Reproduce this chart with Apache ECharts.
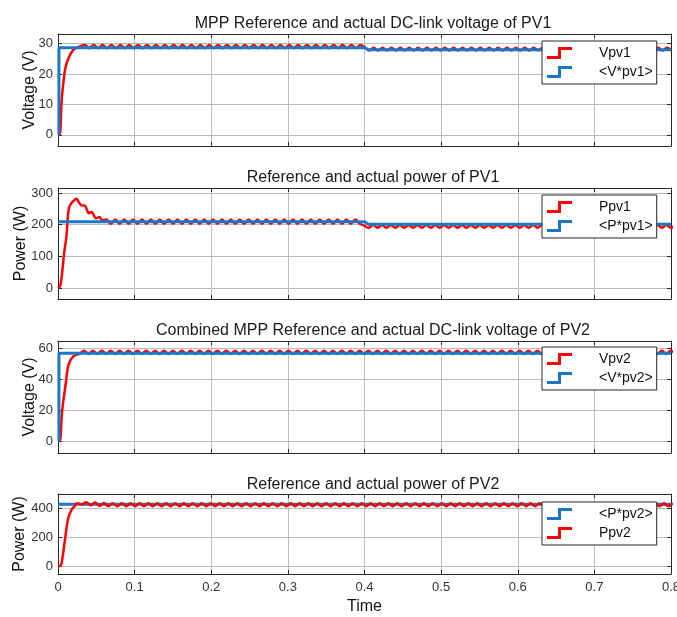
<!DOCTYPE html>
<html>
<head>
<meta charset="utf-8">
<script src="https://cdn.jsdelivr.net/npm/echarts@6/dist/echarts.min.js"></script>
<style>
  html, body { margin: 0; padding: 0; background: #fff; }
  #chart { width: 677px; height: 617px; }
</style>
</head>
<body>
<div id="chart"></div>
<script>
// ---- data ----
const STEP = 0.0058; // spacing of ripple samples (s)

const titles = [
  'MPP Reference and actual DC-link voltage of PV1',
  'Reference and actual power of PV1',
  'Combined MPP Reference and actual DC-link voltage of PV2',
  'Reference and actual power of PV2'
];
const yNames = ['Voltage (V)', 'Power (W)', 'Voltage (V)', 'Power (W)'];
const yMin = [-3.7, -35, -7.8, -52];
const yMax = [33.2, 316, 65, 496];
const yStep = [10, 100, 20, 200];

// reference (blue) traces
const vRef1T = [0.0012, 0.0012, 0.4, 0.405, 0.8];
const vRef1 = [0, 28.7, 28.7, 28.0, 28.0];
const pRef1T = [0, 0.4, 0.405, 0.8];
const pRef1 = [209, 209, 201, 201];
const vRef2T = [0.0012, 0.0012, 0.8];
const vRef2 = [0, 57, 57];
const pRef2T = [0, 0.8];
const pRef2 = [425, 425];

// actual (red) traces: start-up part
const vpv1StartT = [0, 0.002, 0.0048, 0.0069, 0.010, 0.0144, 0.020, 0.0265, 0.030];
const vpv1Start = [0, 0, 11.4, 17, 22.4, 25.7, 28, 28.9, 29.3];
const ppv1StartT = [0, 0.003, 0.0055, 0.008, 0.011, 0.014, 0.0175, 0.021, 0.024, 0.027,
  0.031, 0.035, 0.038, 0.040, 0.044, 0.047, 0.050, 0.054, 0.058, 0.063];
const ppv1Start = [0, 8, 51, 110, 163, 250, 268, 277, 282, 272,
  261, 260, 245, 237, 240, 228, 220, 224, 214, 216];
const vpv2StartT = [0, 0.002, 0.0055, 0.010, 0.014, 0.020, 0.0285];
const vpv2Start = [0, 0, 20, 37, 50, 55, 56.8];
const ppv2StartT = [0, 0.003, 0.0048, 0.0091, 0.0134, 0.0178, 0.022, 0.025];
const ppv2Start = [0, 5, 23, 183, 332, 389, 415, 432];

// actual (red) traces: ripple part, one value every STEP from t0
const vpv1T0 = 0.035;
const vpv1Ripple = [
  29.6, 28.5, 29.6, 28.5, 29.6, 28.5, 29.6, 28.5, 29.6, 28.5,
  29.6, 28.5, 29.6, 28.5, 29.6, 28.5, 29.6, 28.5, 29.6, 28.5,
  29.6, 28.5, 29.6, 28.5, 29.6, 28.5, 29.6, 28.5, 29.6, 28.5,
  29.6, 28.5, 29.6, 28.5, 29.6, 28.5, 29.6, 28.5, 29.6, 28.5,
  29.6, 28.5, 29.6, 28.5, 29.6, 28.5, 29.6, 28.5, 29.6, 28.5,
  29.6, 28.5, 29.6, 28.5, 29.6, 28.5, 29.6, 28.5, 29.6, 28.5,
  29.6, 28.5, 29.6, 28.8,
  27.8, 28.7, 27.8, 28.7, 27.8, 28.7, 27.8, 28.7, 27.8, 28.7,
  27.8, 28.7, 27.8, 28.7, 27.8, 28.7, 27.8, 28.7, 27.8, 28.7,
  27.8, 28.7, 27.8, 28.7, 27.8, 28.7, 27.8, 28.7, 27.8, 28.7,
  27.8, 28.7, 27.8, 28.7, 27.8, 28.7, 27.8, 28.7, 27.8, 28.7,
  27.8, 28.7, 27.8, 28.7, 27.8, 28.7, 27.8, 28.7, 27.8, 28.7,
  27.8, 28.7, 27.8, 28.7, 27.8, 28.7, 27.8, 28.7, 27.8, 28.7,
  27.8, 28.7, 27.8, 28.7, 27.8, 28.7, 27.8, 28.7,
  27.8
];
const ppv1T0 = 0.069;
const ppv1Ripple = [
  203, 216, 203, 216, 203, 216, 203, 216, 203, 216,
  203, 216, 203, 216, 203, 216, 203, 216, 203, 216,
  203, 216, 203, 216, 203, 216, 203, 216, 203, 216,
  203, 216, 203, 216, 203, 216, 203, 216, 203, 216,
  203, 216, 203, 216, 203, 216, 203, 216, 203, 216,
  203, 216, 203, 216, 203, 216, 203, 197,
  190, 199, 190, 199, 190, 199, 190, 199, 190, 199,
  190, 199, 190, 199, 190, 199, 190, 199, 190, 199,
  190, 199, 190, 199, 190, 199, 190, 199, 190, 199,
  190, 199, 190, 199, 190, 199, 190, 199, 190, 199,
  190, 199, 190, 199, 190, 199, 190, 199, 190, 199,
  190, 199, 190, 199, 190, 199, 190, 199, 190, 199,
  190, 199, 190, 199, 190, 199, 190, 199, 190, 199
];
const vpv2T0 = 0.034;
const vpv2Ripple = [
  58.6, 56.6, 58.6, 56.6, 58.6, 56.6, 58.6, 56.6, 58.6, 56.6,
  58.6, 56.6, 58.6, 56.6, 58.6, 56.6, 58.6, 56.6, 58.6, 56.6,
  58.6, 56.6, 58.6, 56.6, 58.6, 56.6, 58.6, 56.6, 58.6, 56.6,
  58.6, 56.6, 58.6, 56.6, 58.6, 56.6, 58.6, 56.6, 58.6, 56.6,
  58.6, 56.6, 58.6, 56.6, 58.6, 56.6, 58.6, 56.6, 58.6, 56.6,
  58.6, 56.6, 58.6, 56.6, 58.6, 56.6, 58.6, 56.6, 58.6, 56.6,
  58.6, 56.6, 58.6, 56.6, 58.6, 56.6, 58.6, 56.6, 58.6, 56.6,
  58.6, 56.6, 58.6, 56.6, 58.6, 56.6, 58.6, 56.6, 58.6, 56.6,
  58.6, 56.6, 58.6, 56.6, 58.6, 56.6, 58.6, 56.6, 58.6, 56.6,
  58.6, 56.6, 58.6, 56.6, 58.6, 56.6, 58.6, 56.6, 58.6, 56.6,
  58.6, 56.6, 58.6, 56.6, 58.6, 56.6, 58.6, 56.6, 58.6, 56.6,
  58.6, 56.6, 58.6, 56.6, 58.6, 56.6, 58.6, 56.6, 58.6, 56.6,
  58.6, 56.6, 58.6, 56.6, 58.6, 56.6, 58.6, 56.6, 58.6, 56.6,
  58.6, 56.6, 58.6, 56.6
];
const ppv2T0 = 0.031;
const ppv2Ripple = [
  424, 440, 418, 437, 414, 434,
  412, 433, 412, 433, 412, 433, 412, 433, 412, 433,
  412, 433, 412, 433, 412, 433, 412, 433, 412, 433,
  412, 433, 412, 433, 412, 433, 412, 433, 412, 433,
  412, 433, 412, 433, 412, 433, 412, 433, 412, 433,
  412, 433, 412, 433, 412, 433, 412, 433, 412, 433,
  412, 433, 412, 433, 412, 433, 412, 433, 412, 433,
  412, 433, 412, 433, 412, 433, 412, 433, 412, 433,
  412, 433, 412, 433, 412, 433, 412, 433, 412, 433,
  412, 433, 412, 433, 412, 433, 412, 433, 412, 433,
  412, 433, 412, 433, 412, 433, 412, 433, 412, 433,
  412, 433, 412, 433, 412, 433, 412, 433, 412, 433,
  412, 433, 412, 433, 412, 433, 412, 433, 412, 433,
  412, 433, 412, 433, 412, 433, 412, 433
];

// ---- layout / style ----
const FONT = '"Liberation Sans", Arial, sans-serif';
const RED = '#ff0000';
const BLUE = '#1a78c8';
const AXIS_COL = '#262626';
const GRID_COL = '#bcbcbc';
const gridTop = [34, 188, 341, 494];
const gridH = [112, 111, 112, 80];
const titleTop = [15.5, 170, 322.5, 476.5];
const legendTop = [41, 195, 347, 502];
const yNameGap = [20, 29, 20, 30];
const STEP_ICON = 'path://M0,9L11,9L11,0L25,0L25,3L14,3L14,12L0,12Z';

function pairs(ts, vs) {
  return ts.map((t, i) => [t, vs[i]]);
}
function trace(startT, startV, t0, ripple) {
  const pts = pairs(startT, startV);
  ripple.forEach((v, i) => pts.push([+(t0 + i * STEP).toFixed(4), v]));
  return pts;
}

const redData = [
  trace(vpv1StartT, vpv1Start, vpv1T0, vpv1Ripple),
  trace(ppv1StartT, ppv1Start, ppv1T0, ppv1Ripple),
  trace(vpv2StartT, vpv2Start, vpv2T0, vpv2Ripple),
  trace(ppv2StartT, ppv2Start, ppv2T0, ppv2Ripple)
];
const blueData = [pairs(vRef1T, vRef1), pairs(pRef1T, pRef1), pairs(vRef2T, vRef2), pairs(pRef2T, pRef2)];
const redNames = ['Vpv1', 'Ppv1', 'Vpv2', 'Ppv2'];
const blueNames = ['<V*pv1>', '<P*pv1>', '<V*pv2>', '<P*pv2>'];

const grid = [], xAxis = [], yAxis = [], title = [], legend = [], series = [];
for (let i = 0; i < 4; i++) {
  grid.push({left: 58, top: gridTop[i], width: 613, height: gridH[i], outerBoundsMode: 'none', containLabel: false});
  title.push({
    text: titles[i], left: 373, top: titleTop[i], textAlign: 'center', padding: 0,
    textStyle: {fontSize: 16, fontWeight: 'normal', color: '#1a1a1a', fontFamily: FONT}
  });
  const tick = {inside: true, length: 4, lineStyle: {color: AXIS_COL}};
  const line = {show: true, onZero: false, lineStyle: {color: AXIS_COL, width: 1}};
  xAxis.push({
    type: 'value', gridIndex: i, min: 0, max: 0.8, interval: 0.1, position: 'bottom',
    axisLine: line, axisTick: tick,
    axisLabel: {show: i === 3, fontSize: 13, color: '#333', margin: 7, fontFamily: FONT},
    splitLine: {show: true, lineStyle: {color: GRID_COL}},
    name: i === 3 ? 'Time' : '', nameLocation: 'middle', nameGap: 25, nameMoveOverlap: false,
    nameTextStyle: {fontSize: 16, color: '#111', fontFamily: FONT}
  });
  xAxis.push({
    type: 'value', gridIndex: i, min: 0, max: 0.8, interval: 0.1, position: 'top',
    axisLine: line, axisTick: tick, axisLabel: {show: false}, splitLine: {show: false}
  });
  yAxis.push({
    type: 'value', gridIndex: i, min: yMin[i], max: yMax[i],
    minInterval: yStep[i], maxInterval: yStep[i], position: 'left',
    axisLine: line, axisTick: tick,
    axisLabel: {fontSize: 13, color: '#333', margin: 5, fontFamily: FONT, showMinLabel: false, showMaxLabel: false},
    splitLine: {show: true, lineStyle: {color: GRID_COL}},
    name: yNames[i], nameLocation: 'middle', nameGap: yNameGap[i], nameMoveOverlap: false,
    nameTextStyle: {fontSize: 16, color: '#111', fontFamily: FONT}
  });
  yAxis.push({
    type: 'value', gridIndex: i, min: yMin[i], max: yMax[i],
    minInterval: yStep[i], maxInterval: yStep[i], position: 'right',
    axisLine: line, axisTick: tick, axisLabel: {show: false}, splitLine: {show: false}
  });

  const red = {
    name: redNames[i], type: 'line', xAxisIndex: 2 * i, yAxisIndex: 2 * i,
    data: redData[i], symbol: 'none', smooth: 0.4, color: RED,
    lineStyle: {color: RED, width: 2.5}
  };
  const blue = {
    name: blueNames[i], type: 'line', xAxisIndex: 2 * i, yAxisIndex: 2 * i,
    data: blueData[i], symbol: 'none', color: BLUE,
    lineStyle: {color: BLUE, width: 3}
  };
  // last panel draws the reference first, actual on top
  const order = i === 3 ? [blue, red] : [red, blue];
  order.forEach(s => series.push(s));

  legend.push({
    data: order.map(s => s.name), left: 542, top: legendTop[i], orient: 'vertical',
    icon: STEP_ICON, itemWidth: 25, itemHeight: 12, itemGap: 5,
    backgroundColor: '#fff', borderColor: AXIS_COL, borderWidth: 1, borderRadius: 0,
    padding: [5, 4, 5, 5], selectedMode: false,
    textStyle: {fontSize: 14, color: '#111', fontFamily: FONT, padding: [0, 0, 0, 22]}
  });
}

const chart = echarts.init(document.getElementById('chart'));
chart.setOption({
  animation: false,
  backgroundColor: '#fff',
  title: title,
  legend: legend,
  grid: grid,
  xAxis: xAxis,
  yAxis: yAxis,
  series: series
});
</script>
</body>
</html>
